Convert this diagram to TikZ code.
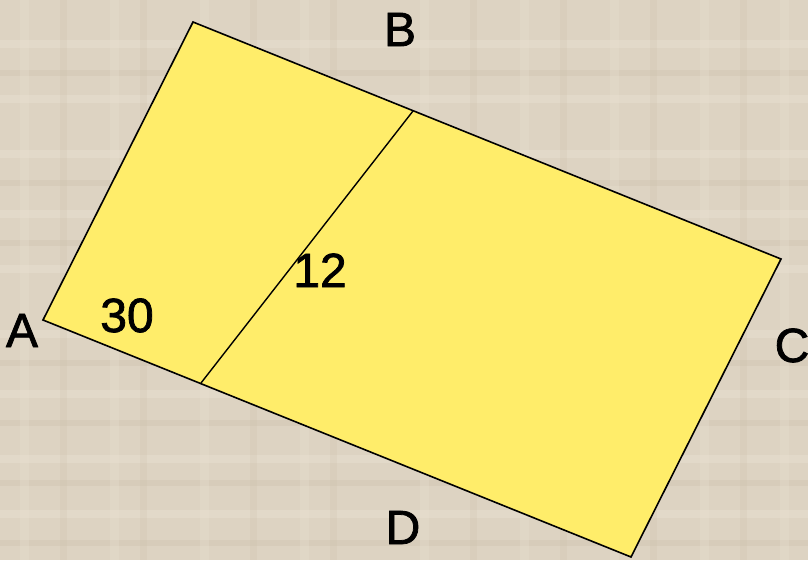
\documentclass[tikz,border=0pt]{standalone}
\usepackage{fontspec}
\setmainfont{Liberation Sans}
\newfontfamily\lblfont[FakeBold=1.6]{Liberation Sans}
\begin{document}
\begin{tikzpicture}[x=1pt,y=-1pt,
  lbl/.style={font=\lblfont\fontsize{48}{48}\selectfont, inner sep=0pt, text height=34pt, text depth=0pt, anchor=center},
  edge/.style={draw=black, line width=1.6pt, line join=miter}]
\definecolor{bg}{HTML}{DDD3C2}
\definecolor{bgdark}{HTML}{CFC3AE}
\definecolor{bglight}{HTML}{E8DFD0}
\definecolor{paper}{HTML}{FFED6A}
\fill[bg] (0,0) rectangle (808,560);
\useasboundingbox (0,0) rectangle (808,560);
% faint texture
\foreach \y in {40,95,150,210,265,330,390,455,510}{\fill[bglight,opacity=0.5] (0,\y) rectangle (808,\y+8);}
\foreach \y in {70,180,240,360,420,480,540}{\fill[bgdark,opacity=0.4] (0,\y) rectangle (808,\y+6);}
\foreach \x in {60,140,250,330,470,560,650,740}{\fill[bgdark,opacity=0.25] (\x,0) rectangle (\x+7,560);}
\foreach \x in {20,110,200,300,420,520,610,700,780}{\fill[bglight,opacity=0.35] (\x,0) rectangle (\x+9,560);}
\coordinate (TL) at (193,22);
\coordinate (TR) at (781,259);
\coordinate (BR) at (631,557);
\coordinate (BL) at (43,320);
\coordinate (M1) at (413,111);
\coordinate (M2) at (201,383);
\fill[paper] (TL) -- (TR) -- (BR) -- (BL) -- cycle;
\draw[edge] (TL) -- (TR) -- (BR) -- (BL) -- cycle;
\draw[line width=1.4pt] (M1) -- (M2);
\node[lbl] (A) at (22,330) {A};
\node[lbl] (B) at (400,29) {B};
\node[lbl] (C) at (792,345) {C};
\node[lbl] (D) at (403,527) {D};
\node[lbl] (n30) at (127,315) {30};
\node[lbl] (n12) at (320,270) {12};
\end{tikzpicture}
\end{document}
